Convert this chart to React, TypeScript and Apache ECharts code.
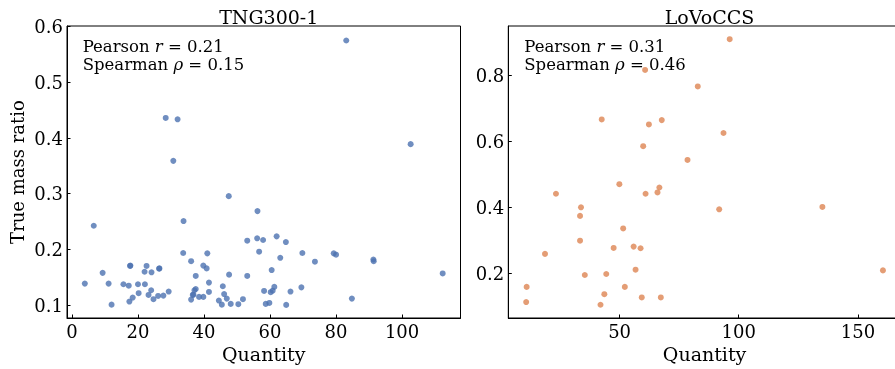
import React, { useEffect, useRef } from "react";
import * as echarts from "echarts";

const tngQuantity = [28.4, 32.0, 30.7, 83.1, 102.6, 3.9, 6.6, 9.3, 11.1, 12.0, 15.6, 17.2, 17.6, 17.7, 17.4, 18.4, 20.0, 20.2, 22.0, 22.1, 22.6, 23.2, 24.0, 24.1, 24.7, 26.1, 26.4, 26.5, 27.7, 29.3, 33.8, 33.7, 36.1, 36.1, 36.6, 36.8, 37.1, 37.5, 37.5, 38.5, 39.8, 39.8, 40.8, 41.0, 41.5, 41.5, 44.5, 45.4, 45.7, 46.1, 46.9, 47.5, 47.6, 48.1, 50.4, 51.8, 53.1, 53.1, 56.2, 56.1, 56.7, 57.9, 58.2, 58.7, 59.8, 60.2, 60.5, 60.8, 61.3, 62.0, 63.1, 64.8, 64.9, 66.2, 69.5, 69.8, 73.6, 79.3, 80.0, 84.8, 91.3, 91.4, 112.3];
const tngRatio = [0.436, 0.4335, 0.359, 0.575, 0.389, 0.1387, 0.2425, 0.158, 0.1387, 0.101, 0.1376, 0.135, 0.1704, 0.171, 0.1065, 0.1136, 0.1376, 0.1215, 0.16, 0.1376, 0.1704, 0.1184, 0.1268, 0.159, 0.1107, 0.1166, 0.1655, 0.166, 0.1172, 0.1244, 0.251, 0.1936, 0.179, 0.11, 0.1184, 0.119, 0.1268, 0.129, 0.1525, 0.1149, 0.1149, 0.171, 0.166, 0.193, 0.1405, 0.1238, 0.1083, 0.101, 0.134, 0.12, 0.1118, 0.2957, 0.1548, 0.1023, 0.1018, 0.1107, 0.1525, 0.2157, 0.2688, 0.22, 0.196, 0.217, 0.1256, 0.1023, 0.104, 0.1233, 0.163, 0.126, 0.1328, 0.2235, 0.185, 0.2133, 0.1005, 0.1244, 0.132, 0.1936, 0.178, 0.193, 0.1906, 0.1118, 0.182, 0.1788, 0.157];

const lovQuantity = [60.7, 42.5, 62.3, 67.7, 59.9, 49.9, 66.7, 96.2, 82.8, 93.6, 78.5, 23.3, 60.9, 65.9, 33.8, 33.4, 51.5, 33.4, 18.7, 47.5, 55.9, 58.8, 35.4, 44.4, 56.7, 11.0, 52.2, 10.8, 43.6, 42.0, 59.3, 67.3, 91.8, 135.1, 160.5];
const lovRatio = [0.817, 0.667, 0.652, 0.665, 0.586, 0.471, 0.461, 0.91, 0.767, 0.626, 0.5445, 0.442, 0.442, 0.446, 0.401, 0.375, 0.337, 0.3, 0.26, 0.278, 0.282, 0.277, 0.196, 0.199, 0.212, 0.16, 0.16, 0.114, 0.138, 0.106, 0.128, 0.128, 0.395, 0.402, 0.21];

const tngXTicks = [0, 20, 40, 60, 80, 100];
const tngYTicks = [0.1, 0.2, 0.3, 0.4, 0.5, 0.6];
const lovXTicks = [50, 100, 150];
const lovYTicks = [0.2, 0.4, 0.6, 0.8];

const titles = ["TNG300-1", "LoVoCCS"];
const pearson = ["0.21", "0.31"];
const spearman = ["0.15", "0.46"];

const FONT = "DejaVu Serif";

export default function App() {
  const ref = useRef<HTMLDivElement>(null);
  useEffect(() => {
    if (!ref.current) return;
    const chart = echarts.init(ref.current, undefined, { renderer: "svg" });
    const grids = [
      { left: 67, top: 26, width: 393.5, height: 292 },
      { left: 508.3, top: 26, width: 392.5, height: 292 },
    ];
    const xAxis = (gi: number, min: number, max: number, ticks: number[]) => ({
      type: "value",
      gridIndex: gi,
      min,
      max,
      splitLine: { show: false },
      axisLine: { show: true, onZero: false, lineStyle: { color: "#000", width: 1 } },
      axisTick: { show: true, inside: true, length: 3.5, customValues: ticks, lineStyle: { color: "#000" } },
      axisLabel: { customValues: ticks, margin: 4, fontSize: 18, color: "#000", fontFamily: FONT },
      name: "Quantity",
      nameLocation: "middle",
      nameGap: 25,
      nameTextStyle: { fontSize: 19, color: "#000", fontFamily: FONT },
    });
    const yAxis = (gi: number, min: number, max: number, ticks: number[], name: string) => ({
      type: "value",
      gridIndex: gi,
      min,
      max,
      splitLine: { show: false },
      axisLine: { show: true, onZero: false, lineStyle: { color: "#000", width: 1 } },
      axisTick: { show: true, inside: true, length: 3.5, customValues: ticks, lineStyle: { color: "#000" } },
      axisLabel: {
        customValues: ticks,
        margin: 4,
        fontSize: 18,
        color: "#000",
        fontFamily: FONT,
        formatter: (v: number) => v.toFixed(1),
      },
      name,
      nameLocation: "middle",
      nameGap: 41,
      nameTextStyle: { fontSize: 18, color: "#000", fontFamily: FONT },
    });
    const annot = (x: number, i: number) => [
      {
        type: "text",
        x,
        y: 46,
        style: {
          text: "Pearson {i|r} = " + pearson[i],
          font: `16.5px "${FONT}"`,
          fill: "#000",
          verticalAlign: "middle",
          rich: { i: { fontStyle: "italic", fontSize: 16.5, fontFamily: FONT, fill: "#000" } },
        },
      },
      {
        type: "text",
        x,
        y: 64.5,
        style: {
          text: "Spearman {i|ρ} = " + spearman[i],
          font: `16.5px "${FONT}"`,
          fill: "#000",
          verticalAlign: "middle",
          rich: { i: { fontStyle: "italic", fontSize: 16.5, fontFamily: FONT, fill: "#000" } },
        },
      },
    ];
    chart.setOption({
      animation: false,
      grid: grids.map((g) => ({ ...g, show: true, borderColor: "#000", borderWidth: 1 })),
      title: [
        {
          text: titles[0],
          left: 263.75,
          top: 2,
          textAlign: "center",
          textStyle: { fontSize: 19, fontWeight: "normal", color: "#000", fontFamily: FONT },
        },
        {
          text: titles[1],
          left: 704.5,
          top: 2,
          textAlign: "center",
          textStyle: { fontSize: 19, fontWeight: "normal", color: "#000", fontFamily: FONT },
        },
      ],
      xAxis: [xAxis(0, -1.5, 117.7, tngXTicks), xAxis(1, 3.3, 168.0, lovXTicks)],
      yAxis: [yAxis(0, 0.077, 0.601, tngYTicks, "True mass ratio"), yAxis(1, 0.0658, 0.95, lovYTicks, "")],
      series: [
        {
          type: "scatter",
          xAxisIndex: 0,
          yAxisIndex: 0,
          symbolSize: 6,
          itemStyle: { color: "#4c72b0", opacity: 0.8 },
          data: tngQuantity.map((q, i) => [q, tngRatio[i]]),
        },
        {
          type: "scatter",
          xAxisIndex: 1,
          yAxisIndex: 1,
          symbolSize: 6,
          itemStyle: { color: "#dd8452", opacity: 0.8 },
          data: lovQuantity.map((q, i) => [q, lovRatio[i]]),
        },
      ],
      graphic: [...annot(82.7, 0), ...annot(524.3, 1)],
    });
    return () => chart.dispose();
  }, []);
  return <div ref={ref} style={{ position: "fixed", left: 0, top: 0, width: 902, height: 369 }} />;
}
